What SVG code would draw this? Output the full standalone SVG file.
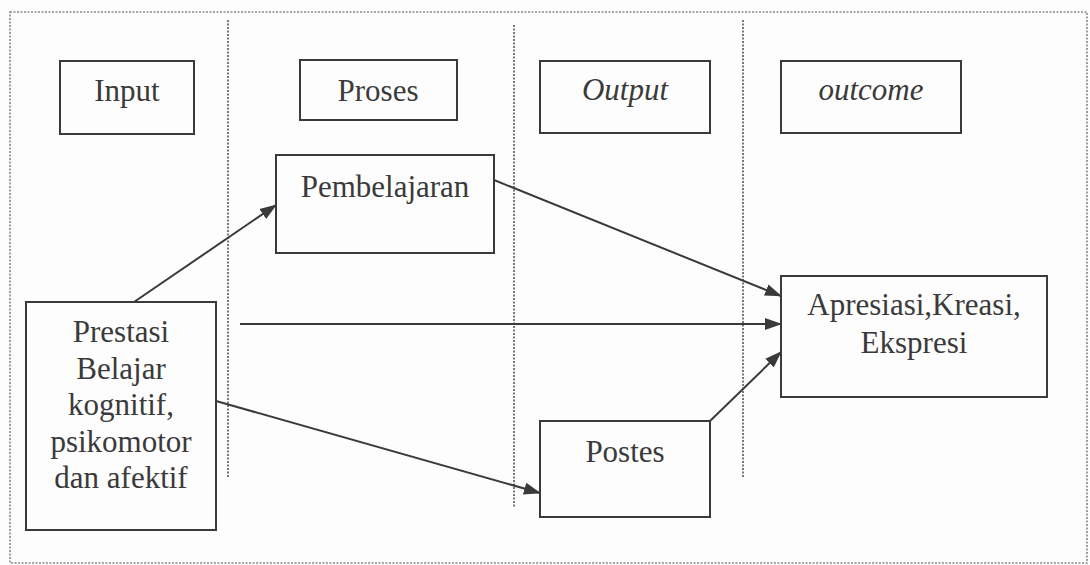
<svg xmlns="http://www.w3.org/2000/svg" width="1090" height="565" viewBox="0 0 1090 565">
<style>
.box{fill:#fdfdfd;stroke:#3a3a3a;stroke-width:2}
text{font-family:'Liberation Serif','DejaVu Serif',serif;font-size:31px;fill:#3a3a3a;text-anchor:middle}
.i{font-style:italic}
.sep{stroke:#555;stroke-width:1.6;stroke-dasharray:2 1.5;fill:none}
.frame{stroke:#888;stroke-width:1.6;stroke-dasharray:2 1.5;fill:none}
.c{stroke:#3a3a3a;stroke-width:2;fill:none;marker-end:url(#ah)}
</style>
<defs>
<marker id="ah" markerUnits="userSpaceOnUse" markerWidth="18" markerHeight="14" refX="16" refY="7" orient="auto">
<path d="M0,1 L17,7 L0,13 Z" fill="#3a3a3a"/>
</marker>
</defs>
<rect width="1090" height="565" fill="#fdfdfd"/>
<rect class="frame" x="10" y="12" width="1077" height="551"/>
<g id="separators">
<line class="sep" x1="228" y1="20" x2="228" y2="477"/>
<line class="sep" x1="514" y1="25" x2="514" y2="507"/>
<line class="sep" x1="743" y1="20" x2="743" y2="477"/>
</g>
<g id="connectors">
<line class="c" x1="134" y1="302" x2="276" y2="205"/>
<line class="c" x1="494" y1="180" x2="781" y2="296"/>
<line class="c" x1="240" y1="324" x2="781" y2="324"/>
<line class="c" x1="216" y1="401" x2="540" y2="493"/>
<line class="c" x1="710" y1="421" x2="781" y2="352"/>
</g>
<g id="input">
<rect class="box" x="60" y="61" width="134" height="73"/>
<text x="127" y="101" font-family="Liberation Serif, serif">Input</text>
</g>
<g id="proses">
<rect class="box" x="300" y="60" width="157" height="60"/>
<text x="378" y="101" font-family="Liberation Serif, serif">Proses</text>
</g>
<g id="output">
<rect class="box" x="540" y="61" width="170" height="72"/>
<text class="i" x="625" y="100" font-family="Liberation Serif, serif">Output</text>
</g>
<g id="outcome">
<rect class="box" x="781" y="61" width="180" height="72"/>
<text class="i" x="871" y="100" font-family="Liberation Serif, serif">outcome</text>
</g>
<g id="pembelajaran">
<rect class="box" x="276" y="155" width="218" height="98"/>
<text x="385" y="197" font-family="Liberation Serif, serif">Pembelajaran</text>
</g>
<g id="prestasi">
<rect class="box" x="26" y="302" width="190" height="228"/>
<text x="121" y="342" font-family="Liberation Serif, serif">Prestasi</text>
<text x="121" y="378.5" font-family="Liberation Serif, serif">Belajar</text>
<text x="121" y="415" font-family="Liberation Serif, serif">kognitif,</text>
<text x="121" y="451.5" font-family="Liberation Serif, serif">psikomotor</text>
<text x="121" y="488" font-family="Liberation Serif, serif">dan afektif</text>
</g>
<g id="apresiasi">
<rect class="box" x="781" y="276" width="266" height="121"/>
<text x="914" y="315" font-family="Liberation Serif, serif">Apresiasi,Kreasi,</text>
<text x="914" y="353" font-family="Liberation Serif, serif">Ekspresi</text>
</g>
<g id="postes">
<rect class="box" x="540" y="421" width="170" height="96"/>
<text x="625" y="462" font-family="Liberation Serif, serif">Postes</text>
</g>
</svg>
